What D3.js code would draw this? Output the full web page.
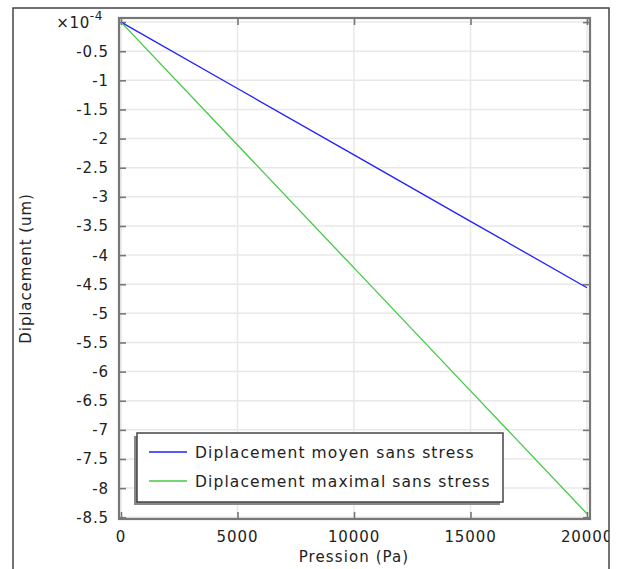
<!DOCTYPE html>
<html><head><meta charset="utf-8">
<script src="https://cdn.jsdelivr.net/npm/d3@7"></script>
<style>body{margin:0;background:#fff}svg{display:block}text{font-family:"DejaVu Sans",sans-serif;fill:#222}</style>
</head><body>
<svg id="c" width="618" height="569"></svg>
<script>
const pressures = [0, 5000, 10000, 15000, 20000];
const moyen = [0, -1.14, -2.28, -3.42, -4.56];
const maximal = [0, -2.11, -4.22, -6.33, -8.44];
const xTicks = [0, 5000, 10000, 15000, 20000];
const yTicks = [0, -0.5, -1, -1.5, -2, -2.5, -3, -3.5, -4, -4.5, -5, -5.5, -6, -6.5, -7, -7.5, -8, -8.5];
const seriesNames = ["Diplacement moyen sans stress", "Diplacement maximal sans stress"];
const seriesColors = ["#1f1fff", "#44c844"];

const svg = d3.select("#c");
const L = 119, R = 590, T = 18, B = 519;
const x = d3.scaleLinear().domain([-86, 20129]).range([L, R]);
const y = d3.scaleLinear().domain([0.07, -8.53]).range([T, B]);

svg.append("defs").append("clipPath").attr("id","fr").append("rect").attr("x",13).attr("y",0).attr("width",596).attr("height",569);
const g = svg.append("g").attr("clip-path","url(#fr)");

// grid
g.append("g").selectAll("line").data(xTicks).join("line")
  .attr("x1", d=>x(d)).attr("x2", d=>x(d)).attr("y1", T).attr("y2", B)
  .attr("stroke", "#e8e8e8").attr("stroke-width", 1.5);
g.append("g").selectAll("line").data(yTicks).join("line")
  .attr("x1", L).attr("x2", R).attr("y1", d=>y(d)).attr("y2", d=>y(d))
  .attr("stroke", "#e8e8e8").attr("stroke-width", 1.5);

// axes with inward ticks
const ax = g.append("g").attr("color", "#777");
ax.append("g").attr("transform", `translate(0,${B})`).call(d3.axisBottom(x).tickValues(xTicks).tickSize(-7).tickFormat("")).call(s=>s.select(".domain").remove());
ax.append("g").attr("transform", `translate(0,${T})`).call(d3.axisTop(x).tickValues(xTicks).tickSize(-7).tickFormat("")).call(s=>s.select(".domain").remove());
ax.append("g").attr("transform", `translate(${L},0)`).call(d3.axisLeft(y).tickValues(yTicks).tickSize(-7).tickFormat("")).call(s=>s.select(".domain").remove());
ax.append("g").attr("transform", `translate(${R},0)`).call(d3.axisRight(y).tickValues(yTicks).tickSize(-7).tickFormat("")).call(s=>s.select(".domain").remove());
ax.selectAll(".tick line").attr("stroke-width", 1.6);
g.append("rect").attr("x", L).attr("y", T).attr("width", R-L).attr("height", B-T)
  .attr("fill", "none").attr("stroke", "#777").attr("stroke-width", 2.2);

// tick labels
g.append("g").selectAll("text").data(yTicks.filter(d=>d!==0)).join("text")
  .attr("x", L-10).attr("y", d=>y(d)+5.5).attr("text-anchor","end")
  .attr("font-size", 15).attr("letter-spacing", 0.9).text(d=>String(d));
g.append("g").selectAll("text").data(xTicks).join("text")
  .attr("x", d=>x(d)).attr("y", 542).attr("text-anchor","middle")
  .attr("font-size", 15).attr("letter-spacing", 0.9).text(d=>String(d));
const ex = g.append("text").attr("x", 103).attr("y", 28).attr("text-anchor","end").attr("font-size",15).attr("letter-spacing",0.6);
ex.append("tspan").text("×10");
ex.append("tspan").attr("dy",-8).attr("font-size",12).text("-4");

// axis titles
g.append("text").attr("x", x(10000)).attr("y", 562).attr("text-anchor","middle")
  .attr("font-size", 15).attr("letter-spacing", 1.1).text("Pression (Pa)");
g.append("text").attr("transform", `translate(31,${(T+B)/2}) rotate(-90)`).attr("text-anchor","middle")
  .attr("font-size", 15).attr("letter-spacing", 0.9).text("Diplacement (um)");

// lines
const line = d3.line().x(d=>x(d[0])).y(d=>y(d[1]));
[moyen, maximal].forEach((vals, i) => {
  g.append("path").datum(pressures.map((p, j) => [p, vals[j]]))
    .attr("d", line).attr("fill","none").attr("stroke", seriesColors[i]).attr("stroke-width", 1.3);
});

// legend
const lg = g.append("g");
lg.append("rect").attr("x", 134).attr("y", 436).attr("width", 366).attr("height", 69).attr("fill", "#888");
lg.append("rect").attr("x", 137).attr("y", 433).attr("width", 366).attr("height", 69).attr("fill", "#fff").attr("stroke", "#444").attr("stroke-width", 1.5);
seriesNames.forEach((n, i) => {
  const yy = 452 + i*29;
  lg.append("line").attr("x1",149).attr("x2",187).attr("y1",yy).attr("y2",yy).attr("stroke",seriesColors[i]).attr("stroke-width",1.5);
  lg.append("text").attr("x",195).attr("y",yy+5.5).attr("font-size",15.5).attr("letter-spacing",1.1).text(n);
});

// outer frame
svg.append("path").attr("d","M13,575 V8 H609 V575").attr("fill","none").attr("stroke","#444").attr("stroke-width",1.5);
</script>
</body></html>
